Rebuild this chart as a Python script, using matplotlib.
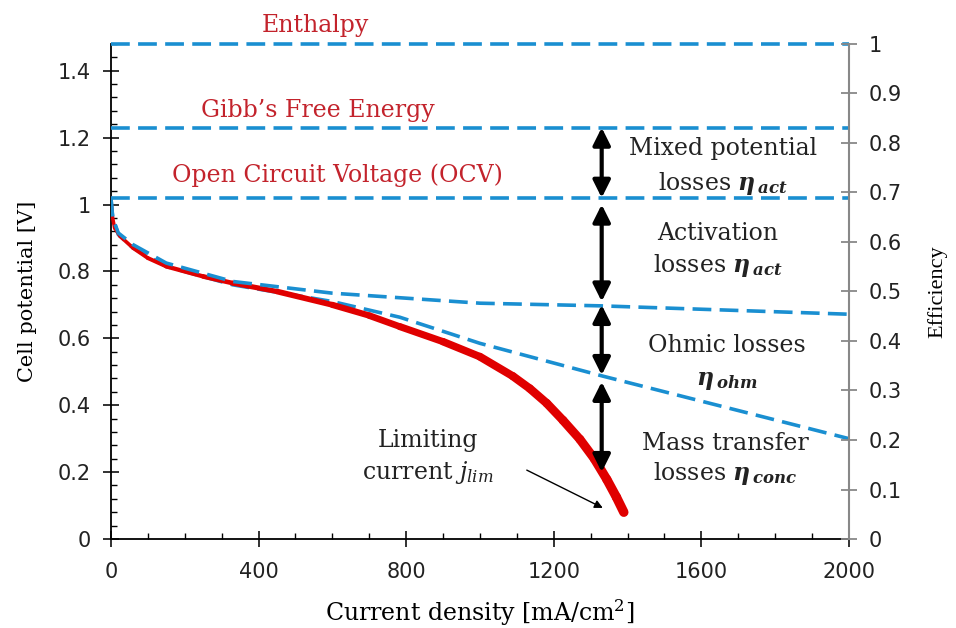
import numpy as np
import matplotlib
matplotlib.use('Agg')
import matplotlib.pyplot as plt
from matplotlib.collections import LineCollection
from matplotlib.ticker import MultipleLocator, FuncFormatter

plt.rcParams['mathtext.fontset'] = 'custom'
plt.rcParams['mathtext.rm'] = 'DejaVu Serif'
plt.rcParams['mathtext.it'] = 'DejaVu Serif:italic'
plt.rcParams['mathtext.bf'] = 'DejaVu Serif:bold'
plt.rcParams['mathtext.bfit'] = 'DejaVu Serif:italic:bold'

# measured polarization curve (red)
current = [0, 3, 10, 25, 60, 100, 150, 250, 330, 450, 600, 700, 783, 900, 1000,
           1089, 1135, 1181, 1225, 1271, 1310, 1344, 1370, 1390]
voltage = [1.02, 0.97, 0.93, 0.905, 0.87, 0.84, 0.815, 0.785, 0.765, 0.74, 0.70, 0.668,
           0.635, 0.59, 0.545, 0.487, 0.45, 0.406, 0.355, 0.298, 0.24, 0.178, 0.125, 0.08]

# activation-only curve (upper blue dashed)
act_current = [0, 5, 20, 60, 150, 330, 600, 1000, 1330, 2000]
act_voltage = [1.02, 0.96, 0.915, 0.88, 0.825, 0.77, 0.735, 0.705, 0.697, 0.672]

# activation + ohmic curve (lower blue dashed)
ohm_current = [0, 5, 20, 60, 150, 330, 600, 783, 1000, 1333, 2000]
ohm_voltage = [1.02, 0.96, 0.91, 0.87, 0.815, 0.76, 0.71, 0.663, 0.585, 0.487, 0.30]

# reference potentials
levels = [1.48, 1.23, 1.02]
level_names = ['Enthalpy', 'Gibb\u2019s Free Energy', 'Open Circuit Voltage (OCV)']

# loss arrows at j ~ 1330 (top, bottom)
arrow_j = 1330
loss_spans = [(1.23, 1.02), (1.00, 0.71), (0.70, 0.49), (0.47, 0.20)]

RED_TXT = '#c3232c'
BLUE = '#1a8fd1'
dash = (0, (5.2, 2.3))
serif = 'DejaVu Serif'

fig = plt.figure(figsize=(9.56, 6.28), dpi=100)
ax = fig.add_axes([0.116, 0.1417, 0.772, 0.7883])
ax2 = ax.twinx()

# horizontal reference lines
for v in levels:
    ax.plot([0, 2000], [v, v], color=BLUE, lw=2.6, ls=dash, zorder=4, clip_on=False)

# loss curves
ax.plot(ohm_current, ohm_voltage, color=BLUE, lw=2.6, ls=dash, zorder=2)
ax.plot(act_current, act_voltage, color=BLUE, lw=2.6, ls=dash, zorder=4)

# polarization curve gets thicker towards the limiting current
pts = np.column_stack([current, voltage])
segs = np.stack([pts[:-1], pts[1:]], axis=1)
mid = (np.array(current[:-1]) + np.array(current[1:])) / 2
widths = 2.5 + 4.3 * mid / 1390
lc = LineCollection(segs, linewidths=widths, colors='#e00000', capstyle='round',
                    joinstyle='round', zorder=3)
ax.add_collection(lc)

for hi, lo in loss_spans:
    ax.annotate('', xy=(arrow_j, lo), xytext=(arrow_j, hi),
                arrowprops=dict(arrowstyle='<|-|>', lw=3, color='black',
                                mutation_scale=26, shrinkA=0, shrinkB=0), zorder=5)

# labels of reference lines
label_pos = [(553, 1.534), (561, 1.28), (615, 1.087)]
for name, (x, y) in zip(level_names, label_pos):
    ax.text(x, y, name, color=RED_TXT, fontsize=17, family=serif,
            ha='center', va='center', clip_on=False)

txt = dict(fontsize=17, family=serif, ha='center', va='center', color='#222222')
eta = r'$\mathbfit{\eta}_{\,\mathbfit{%s}}$'
ax.text(1659, 1.167, 'Mixed potential', **txt)
ax.text(1659, 1.063, 'losses ' + eta % 'act', **txt)
ax.text(1645, 0.913, 'Activation', **txt)
ax.text(1645, 0.818, 'losses ' + eta % 'act', **txt)
ax.text(1669, 0.579, 'Ohmic losses', **txt)
ax.text(1669, 0.475, eta % 'ohm', **txt)
ax.text(1664, 0.287, 'Mass transfer', **txt)
ax.text(1664, 0.197, 'losses ' + eta % 'conc', **txt)
ax.text(860, 0.296, 'Limiting', **txt)
ax.text(860, 0.200, r'current $j_{lim}$', **txt)
ax.annotate('', xy=(1333, 0.093), xytext=(1127, 0.206),
            arrowprops=dict(arrowstyle='-|>', lw=1, color='black',
                            mutation_scale=12, shrinkA=0, shrinkB=0))

# axes styling
fmt = FuncFormatter(lambda v, p: '%g' % round(v, 2))
ax.set_xlim(0, 2000)
ax.set_ylim(0, 1.48)
ax.xaxis.set_major_locator(MultipleLocator(400))
ax.xaxis.set_minor_locator(MultipleLocator(100))
ax.yaxis.set_major_locator(MultipleLocator(0.2))
ax.yaxis.set_minor_locator(MultipleLocator(0.04))
ax.yaxis.set_major_formatter(fmt)
ax.tick_params(which='major', direction='inout', length=11, width=1.3,
               labelsize=15, pad=9, labelfontfamily='DejaVu Sans', colors='#222222')
ax.tick_params(axis='x', which='major', pad=11)
ax.tick_params(which='minor', direction='in', length=4.5, width=1)

ax2.set_ylim(0, 1)
ax2.yaxis.set_major_locator(MultipleLocator(0.1))
ax2.yaxis.set_major_formatter(fmt)
ax2.tick_params(which='major', direction='inout', length=11, width=1.3, color='#888888',
                labelsize=15, pad=9, labelfontfamily='DejaVu Sans', labelcolor='#222222')

for a in (ax, ax2):
    a.spines['top'].set_visible(False)
ax.spines['right'].set_visible(False)
ax2.spines['left'].set_visible(False)
ax2.spines['bottom'].set_visible(False)
ax2.spines['right'].set_color('#888888')
ax2.spines['right'].set_linewidth(1.5)
ax.spines['left'].set_linewidth(1.3)
ax.spines['bottom'].set_linewidth(1.3)

ax.set_xlabel('Current density [mA/cm$^2$]', fontsize=17, family=serif, labelpad=11)
ax.set_ylabel('Cell potential [V]', fontsize=15, family=serif, labelpad=15)
ax2.set_ylabel('Efficiency', fontsize=16, family='Liberation Serif', labelpad=18)

fig.savefig('out.png', dpi=100, facecolor='white')
